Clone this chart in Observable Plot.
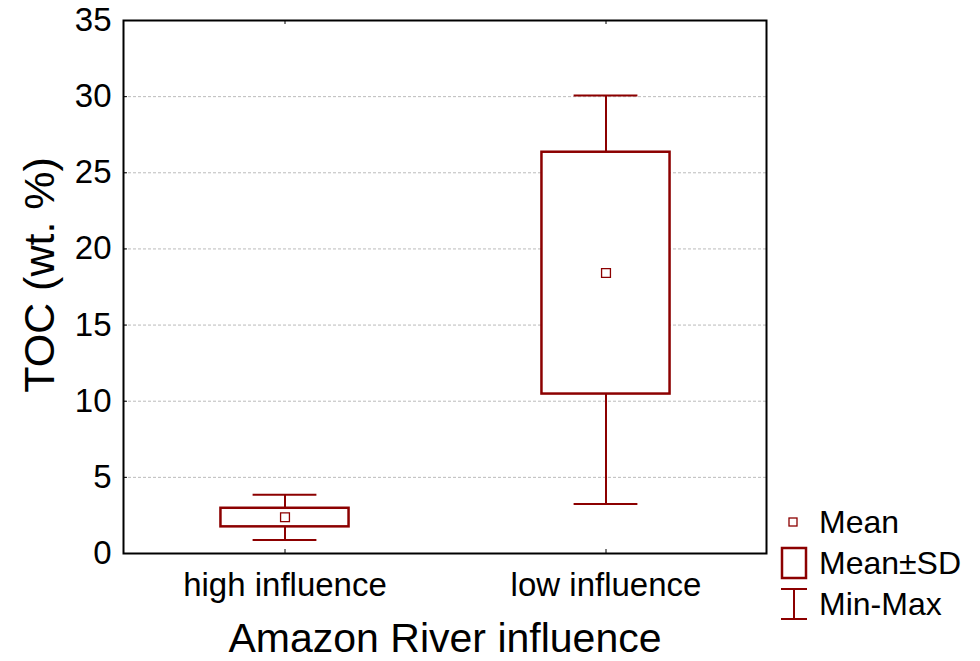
<!DOCTYPE html>
<html><head><meta charset="utf-8">
<script src="https://cdn.jsdelivr.net/npm/d3@7"></script>
<script src="https://cdn.jsdelivr.net/npm/@observablehq/plot@0.6"></script>
<style>
body{margin:0;background:#fff;font-family:"Liberation Sans",Arial,sans-serif}
#wrap{position:relative;width:980px;height:661px}
</style></head><body><div id="wrap"></div>
<script>
const groups = ["high influence", "low influence"];
const means = [2.38, 18.42];
const sdLow = [1.75, 10.47];
const sdHigh = [2.97, 26.35];
const mins = [0.89, 3.25];
const maxs = [3.85, 30.07];
const yTicks = [0, 5, 10, 15, 20, 25, 30, 35];
const gridTicks = [5, 10, 15, 20, 25, 30];
const yTitle = "TOC (wt. %)";
const xTitle = "Amazon River influence";
const legendLabels = ["Mean", "Mean±SD", "Min-Max"];

const data = groups.map((g, i) => ({g, mean: means[i], lo: sdLow[i], hi: sdHigh[i], min: mins[i], max: maxs[i]}));
const red = "#8c0000";
const W = 980, H = 661, mL = 123, mR = 214, mT = 20, mB = 108;
const plotW = W - mL - mR, plotH = H - mT - mB;
const band = plotW / groups.length;
const boxW = plotW * 0.2, capW = plotW * 0.1;

const chart = Plot.plot({
  width: W, height: H,
  marginLeft: mL, marginRight: mR, marginTop: mT, marginBottom: mB,
  style: {fontFamily: '"Liberation Sans", Arial, sans-serif', background: "white", color: "black"},
  x: {type: "band", domain: groups, padding: 0, axis: null},
  y: {domain: [0, 35], axis: null},
  marks: [
    Plot.ruleY(gridTicks, {y: d => d, stroke: "#bbbbbb", strokeWidth: 1, strokeDasharray: "3,2"}),
    Plot.tickY(yTicks, {y: d => d, stroke: "black", strokeWidth: 1, insetRight: plotW - 4}),
    Plot.tickX(groups, {x: d => d, stroke: "black", strokeWidth: 1, insetBottom: plotH - 4}),
    Plot.tickX(groups, {x: d => d, stroke: "black", strokeWidth: 1, insetTop: plotH - 4}),
    Plot.ruleX(data, {x: "g", y1: "hi", y2: "max", stroke: red, strokeWidth: 2}),
    Plot.ruleX(data, {x: "g", y1: "min", y2: "lo", stroke: red, strokeWidth: 2}),
    Plot.tickY(data, {x: "g", y: "max", stroke: red, strokeWidth: 2, insetLeft: (band - capW) / 2, insetRight: (band - capW) / 2}),
    Plot.tickY(data, {x: "g", y: "min", stroke: red, strokeWidth: 2, insetLeft: (band - capW) / 2, insetRight: (band - capW) / 2}),
    Plot.barY(data, {x: "g", y1: "lo", y2: "hi", fill: "white", stroke: red, strokeWidth: 2.5, insetLeft: (band - boxW) / 2, insetRight: (band - boxW) / 2}),
    Plot.dot(data, {x: "g", y: "mean", symbol: "square", r: 5, stroke: red, strokeWidth: 1.3, fill: "white"}),
    Plot.frame({stroke: "black", strokeWidth: 2}),
    Plot.text(yTicks, {y: d => d, text: d => String(d), frameAnchor: "left", textAnchor: "end", lineAnchor: "middle", dx: -12, fontSize: 33, fill: "black"}),
    Plot.text(groups, {x: d => d, text: d => d, frameAnchor: "bottom", textAnchor: "middle", lineAnchor: "middle", dy: 32, fontSize: 33, fill: "black"}),
    Plot.text([xTitle], {text: d => d, frameAnchor: "bottom", textAnchor: "middle", lineAnchor: "middle", dy: 85, fontSize: 41, fill: "black"}),
    Plot.text([yTitle], {text: d => d, frameAnchor: "left", textAnchor: "middle", lineAnchor: "middle", rotate: -90, dx: -83, dy: -12, fontSize: 43, fill: "black"})
  ]
});
document.getElementById("wrap").appendChild(chart);

// legend
const svg = d3.select(chart);
const lg = svg.append("g").attr("font-family", '"Liberation Sans", Arial, sans-serif').attr("font-size", 32).attr("text-anchor", "start");
const rows = [522, 563, 604];
lg.append("rect").attr("x", 789).attr("y", 518).attr("width", 8).attr("height", 8).attr("fill", "white").attr("stroke", red).attr("stroke-width", 1.3);
lg.append("rect").attr("x", 782).attr("y", 548).attr("width", 24).attr("height", 30).attr("fill", "white").attr("stroke", red).attr("stroke-width", 2.5);
lg.append("line").attr("x1", 781).attr("x2", 807).attr("y1", 589).attr("y2", 589).attr("stroke", red).attr("stroke-width", 2);
lg.append("line").attr("x1", 781).attr("x2", 807).attr("y1", 619).attr("y2", 619).attr("stroke", red).attr("stroke-width", 2);
lg.append("line").attr("x1", 794).attr("x2", 794).attr("y1", 589).attr("y2", 619).attr("stroke", red).attr("stroke-width", 2);
legendLabels.forEach((t, i) => {
  lg.append("text").attr("x", 819).attr("y", rows[i]).attr("dy", "0.35em").attr("text-anchor", "start").attr("fill", "black").text(t);
});
</script></body></html>
